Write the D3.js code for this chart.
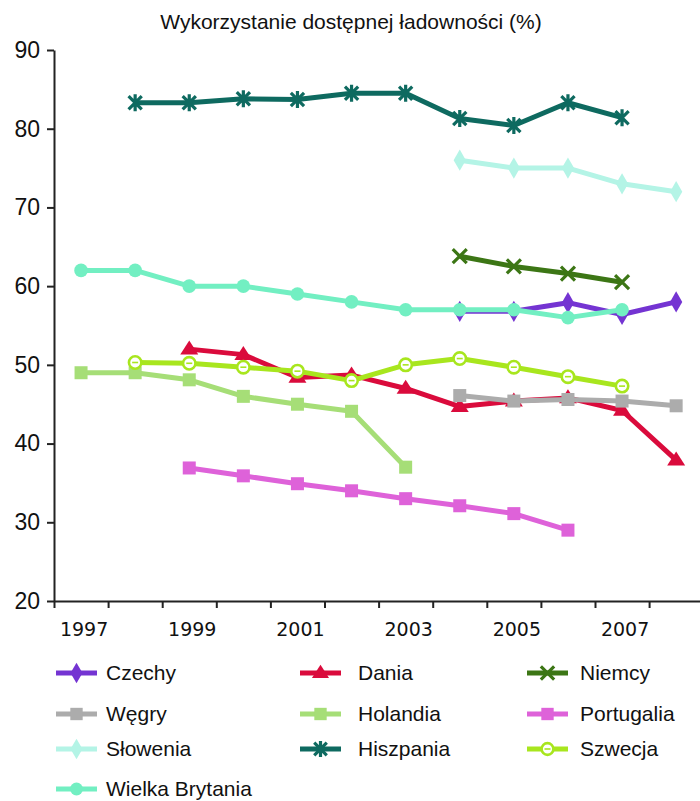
<!DOCTYPE html>
<html>
<head>
<meta charset="utf-8">
<script src="https://cdn.jsdelivr.net/npm/d3@7/dist/d3.min.js"></script>
<style>
  html, body { margin: 0; padding: 0; background: #fff; }
  svg { display: block; }
</style>
</head>
<body>
<svg id="chart" width="700" height="801"></svg>
<script>
// Years on the category axis
const years = [1997, 1998, 1999, 2000, 2001, 2002, 2003, 2004, 2005, 2006, 2007, 2008];
const yearLabels = [1997, 1999, 2001, 2003, 2005, 2007];
const yTicks = [20, 30, 40, 50, 60, 70, 80, 90];

// Utilisation of available capacity (%), one value per year (null = no data)
const czechy         = [null, null, null, null, null, null, null, 56.8, 56.8, 57.9, 56.4, 58.0];
const dania          = [null, null, 52.0, 51.3, 48.4, 48.7, 47.0, 44.7, 45.4, 45.8, 44.2, 37.9];
const niemcy         = [null, null, null, null, null, null, null, 63.8, 62.5, 61.6, 60.5, null];
const wegry          = [null, null, null, null, null, null, null, 46.1, 45.4, 45.6, 45.4, 44.8];
const holandia       = [49.0, 49.0, 48.1, 46.0, 45.0, 44.1, 37.0, null, null, null, null, null];
const portugalia     = [null, null, 36.9, 35.9, 34.9, 34.0, 33.0, 32.1, 31.1, 29.0, null, null];
const slowenia       = [null, null, null, null, null, null, null, 76.0, 75.0, 75.0, 73.0, 72.0];
const hiszpania      = [null, 83.3, 83.3, 83.8, 83.7, 84.5, 84.5, 81.3, 80.4, 83.3, 81.4, null];
const szwecja        = [null, 50.3, 50.2, 49.7, 49.2, 48.0, 50.0, 50.8, 49.7, 48.5, 47.3, null];
const wielkaBrytania = [62.0, 62.0, 60.0, 60.0, 59.0, 58.0, 57.0, 57.0, 57.0, 56.0, 57.0, null];

const seriesNames = ["Czechy", "Dania", "Niemcy", "Węgry", "Holandia", "Portugalia",
                     "Słowenia", "Hiszpania", "Szwecja", "Wielka Brytania"];
const seriesValues = [czechy, dania, niemcy, wegry, holandia, portugalia,
                      slowenia, hiszpania, szwecja, wielkaBrytania];
const seriesColors = ["#7434D2", "#DA0B3C", "#3C7615", "#ACACAC", "#A6DE77", "#DE62D9",
                      "#B4F4E6", "#0E6A60", "#A8E61E", "#72EFC2"];
const seriesMarkers = ["diamond", "triangle", "x", "square", "square", "square",
                       "diamond", "star", "ringdash", "circle"];

const series = seriesNames.map((name, i) => ({
  name, values: seriesValues[i], color: seriesColors[i], marker: seriesMarkers[i]
}));

const svg = d3.select("#chart");

// Plot area
const plotLeft = 54, plotTop = 50, plotBottom = 601;
const bandW = 54.1;
const x = d3.scaleBand().domain(years).range([plotLeft, plotLeft + bandW * years.length]).padding(0);
const xEdge = d3.scaleLinear().domain([0, years.length]).range([plotLeft, plotLeft + bandW * years.length]);
const y = d3.scaleLinear().domain([20, 90]).range([plotBottom, plotTop]);
const cx = yr => x(yr) + x.bandwidth() / 2;

// Title
svg.append("text")
  .attr("x", 351).attr("y", 29)
  .attr("text-anchor", "middle")
  .attr("font-family", "'Liberation Sans', Arial, sans-serif")
  .attr("font-size", 21)
  .attr("fill", "#111")
  .text("Wykorzystanie dostępnej ładowności (%)");

// Y axis
const yAxis = svg.append("g")
  .attr("transform", `translate(${plotLeft},0)`)
  .call(d3.axisLeft(y).tickValues(yTicks).tickSize(7).tickSizeOuter(0).tickPadding(7));
yAxis.select(".domain").attr("stroke", "#222").attr("stroke-width", 2);
yAxis.selectAll(".tick line").attr("stroke", "#222").attr("stroke-width", 2);
yAxis.selectAll(".tick text")
  .attr("font-family", "'Liberation Sans', Arial, sans-serif")
  .attr("font-size", 23).attr("fill", "#111");

// X axis: tick marks on category boundaries
const xTickAxis = svg.append("g")
  .attr("transform", `translate(0,${plotBottom})`)
  .call(d3.axisBottom(xEdge).tickValues(d3.range(0, years.length + 1)).tickSize(7)
        .tickSizeOuter(0).tickFormat(""));
xTickAxis.select(".domain").attr("stroke", "#222").attr("stroke-width", 2);
xTickAxis.selectAll(".tick line").attr("stroke", "#222").attr("stroke-width", 2);

// X axis: year labels centred under their categories
const xLabelAxis = svg.append("g")
  .attr("transform", `translate(3,${plotBottom})`)
  .call(d3.axisBottom(x).tickValues(yearLabels).tickSize(0).tickPadding(22));
xLabelAxis.select(".domain").remove();
xLabelAxis.selectAll(".tick text")
  .attr("font-family", "'DejaVu Sans', Verdana, sans-serif")
  .attr("font-size", 19).attr("fill", "#111");

// Marker drawing
function drawMarker(g, type, color, px, py, legend) {
  const s = legend ? 0.95 : 1;
  if (type === "diamond") {
    g.append("path")
      .attr("d", d3.symbol().type(d3.symbolDiamond).size(130 * s)())
      .attr("transform", `translate(${px},${py})`).attr("fill", color);
  } else if (type === "triangle") {
    const h = 14 * s, w = 18 * s;
    g.append("path")
      .attr("d", `M0,${-h * 0.62}L${w / 2},${h * 0.38}L${-w / 2},${h * 0.38}Z`)
      .attr("transform", `translate(${px},${py})`).attr("fill", color);
  } else if (type === "square") {
    const a = 13 * s;
    g.append("rect")
      .attr("x", px - a / 2).attr("y", py - a / 2).attr("width", a).attr("height", a)
      .attr("fill", color);
  } else if (type === "circle") {
    g.append("circle").attr("cx", px).attr("cy", py).attr("r", 6.8 * s).attr("fill", color);
  } else if (type === "ringdash") {
    g.append("circle").attr("cx", px).attr("cy", py).attr("r", 6.2 * s)
      .attr("fill", "#fff").attr("stroke", color).attr("stroke-width", 2.6);
    g.append("line").attr("x1", px - 3).attr("x2", px + 3).attr("y1", py).attr("y2", py)
      .attr("stroke", color).attr("stroke-width", 1.6);
  } else if (type === "x") {
    const r = 7 * s;
    g.append("path")
      .attr("d", `M${-r},${-r}L${r},${r}M${-r},${r}L${r},${-r}`)
      .attr("transform", `translate(${px},${py})`)
      .attr("stroke", color).attr("stroke-width", 3.2).attr("fill", "none");
  } else if (type === "star") {
    const r = 8.5 * s, d = 6.6 * s;
    g.append("path")
      .attr("d", `M0,${-r}L0,${r}M${-d},${-d}L${d},${d}M${-d},${d}L${d},${-d}`)
      .attr("transform", `translate(${px},${py})`)
      .attr("stroke", color).attr("stroke-width", 3.2).attr("fill", "none");
  }
}

// Series lines and markers, drawn in series order
const line = d3.line()
  .defined(d => d.v != null)
  .x(d => cx(d.year))
  .y(d => y(d.v));

series.forEach(s => {
  const pts = years.map((yr, i) => ({ year: yr, v: s.values[i] }));
  const g = svg.append("g");
  g.append("path")
    .datum(pts)
    .attr("d", line)
    .attr("fill", "none")
    .attr("stroke", s.color)
    .attr("stroke-width", 5)
    .attr("stroke-linejoin", "round");
  pts.filter(d => d.v != null).forEach(d => drawMarker(g, s.marker, s.color, cx(d.year), y(d.v), false));
});

// Legend: three columns
const legendCols = [56, 300, 527];
const legendRows = [673, 714, 749, 789];
const legendTextDx = [50, 58, 53];
series.forEach((s, i) => {
  const col = i % 3, row = Math.floor(i / 3);
  const lx = legendCols[col], ly = legendRows[row];
  const g = svg.append("g");
  g.append("line").attr("x1", lx).attr("x2", lx + 41).attr("y1", ly).attr("y2", ly)
    .attr("stroke", s.color).attr("stroke-width", 5);
  drawMarker(g, s.marker, s.color, lx + 20.5, ly, true);
  g.append("text")
    .attr("x", lx + legendTextDx[col]).attr("y", ly + 7)
    .attr("font-family", "'Liberation Sans', Arial, sans-serif")
    .attr("font-size", 21).attr("fill", "#111")
    .text(s.name);
});
</script>
</body>
</html>
